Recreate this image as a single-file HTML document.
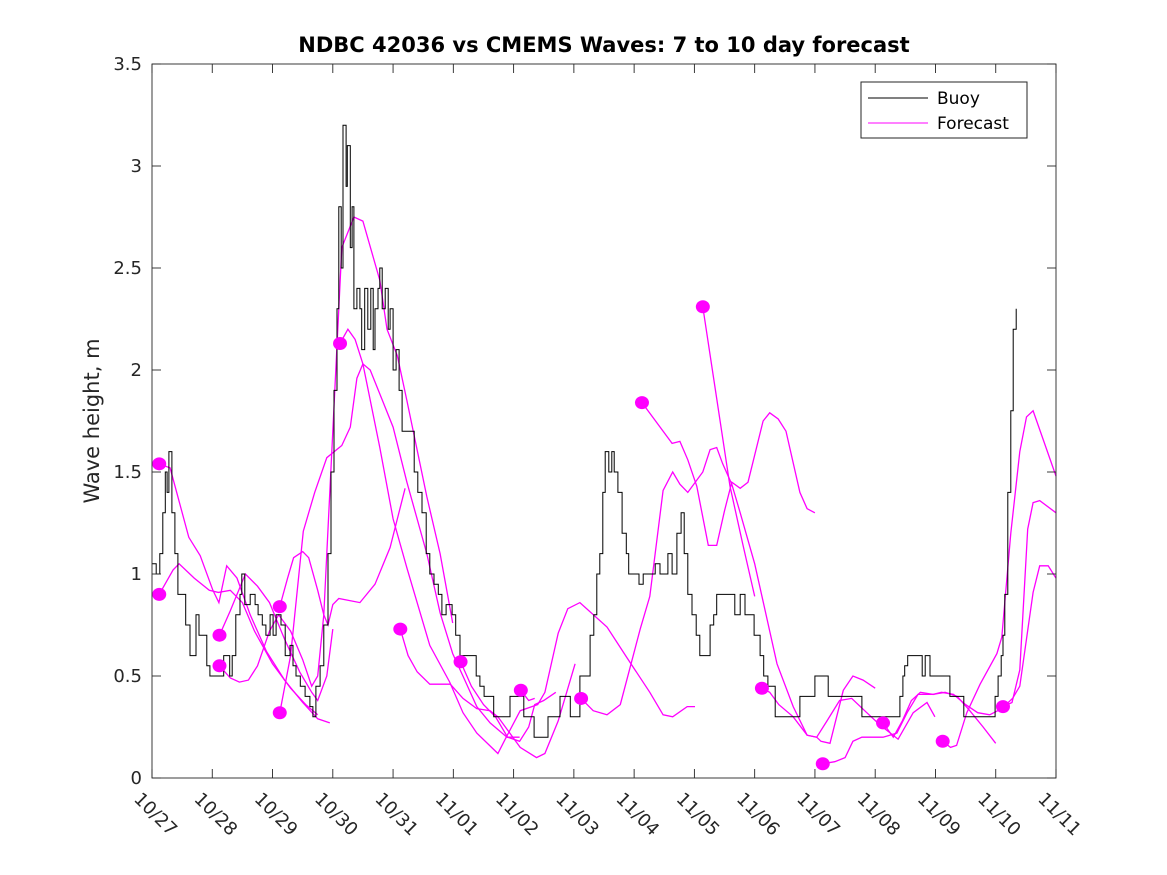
<!DOCTYPE html>
<html><head><meta charset="utf-8"><style>
html,body{margin:0;padding:0;background:#fff;}
svg{display:block;font-family:"DejaVu Sans","Liberation Sans",sans-serif;}
</style></head><body>
<svg id="chart" width="1167" height="875" viewBox="0 0 1167 875" xmlns="http://www.w3.org/2000/svg">
<rect x="0" y="0" width="1167" height="875" fill="#fff"/>
<text x="604" y="52" text-anchor="middle" font-size="21" font-weight="bold" fill="#000">NDBC 42036 vs CMEMS Waves: 7 to 10 day forecast</text>
<text transform="translate(99,421) rotate(-90)" text-anchor="middle" font-size="21" fill="#262626">Wave height, m</text>
<g id="plot"></g>
<g id="axes"></g>
<g>
<rect x="861" y="82" width="166" height="56" fill="#fff" stroke="#262626" stroke-width="1"/>
<line x1="868" y1="98" x2="928" y2="98" stroke="#000" stroke-width="1"/>
<text x="937" y="104" font-size="17" fill="#000">Buoy</text>
<line x1="868" y1="123" x2="928" y2="123" stroke="#ff00ff" stroke-width="1"/>
<text x="937" y="129" font-size="17" fill="#000">Forecast</text>
</g>
</svg>
<script>
const xTickLabels = ["10/27","10/28","10/29","10/30","10/31","11/01","11/02","11/03","11/04","11/05","11/06","11/07","11/08","11/09","11/10","11/11"];
const yTicks = [0,0.5,1,1.5,2,2.5,3,3.5];
const yTickLabels = ["0","0.5","1","1.5","2","2.5","3","3.5"];
const buoyDays = [0,.07,.13,.18,.22,.25,.28,.33,.38,.43,.51,.56,.63,.68,.73,.78,.88,.91,.96,1.13,1.19,1.29,1.33,1.39,1.46,1.49,1.54,1.63,1.71,1.76,1.83,1.89,1.96,2.01,2.06,2.14,2.21,2.29,2.34,2.39,2.46,2.54,2.62,2.67,2.72,2.79,2.85,2.92,2.97,3.02,3.07,3.10,3.14,3.17,3.20,3.22,3.24,3.29,3.32,3.35,3.40,3.45,3.48,3.53,3.58,3.63,3.67,3.70,3.75,3.78,3.82,3.87,3.92,3.95,4.00,4.05,4.10,4.15,4.28,4.35,4.41,4.48,4.55,4.61,4.68,4.75,4.81,4.88,4.98,5.04,5.11,5.28,5.38,5.44,5.51,5.61,5.67,5.86,5.94,6.11,6.17,6.27,6.34,6.52,6.57,6.70,6.77,6.85,6.94,7.04,7.10,7.18,7.27,7.33,7.38,7.43,7.48,7.52,7.58,7.63,7.67,7.73,7.80,7.87,7.91,8.03,8.08,8.15,8.30,8.35,8.43,8.56,8.63,8.71,8.78,8.83,8.89,8.96,9.03,9.09,9.18,9.26,9.32,9.37,9.59,9.67,9.76,9.84,9.92,9.99,10.09,10.15,10.22,10.34,10.70,10.75,10.95,11.00,11.17,11.22,11.75,11.78,12.33,12.41,12.46,12.49,12.54,12.74,12.78,12.83,12.91,13.19,13.24,13.44,13.47,13.94,13.99,14.04,14.09,14.12,14.15,14.20,14.25,14.29,14.34];
const buoyHeights = [1.05,1.0,1.1,1.3,1.5,1.4,1.6,1.3,1.1,0.9,0.9,0.75,0.6,0.6,0.8,0.7,0.7,0.55,0.5,0.5,0.6,0.5,0.6,0.8,0.9,1.0,0.85,0.9,0.85,0.8,0.75,0.7,0.8,0.7,0.8,0.75,0.6,0.65,0.55,0.5,0.45,0.4,0.35,0.3,0.45,0.55,0.75,1.1,1.5,1.9,2.3,2.8,2.5,3.2,3.2,2.9,3.1,2.6,2.8,2.3,2.4,2.3,2.1,2.4,2.2,2.4,2.1,2.3,2.4,2.5,2.3,2.4,2.2,2.3,2.0,2.1,1.9,1.7,1.7,1.5,1.4,1.3,1.1,1.0,0.95,0.9,0.8,0.85,0.8,0.7,0.6,0.6,0.5,0.45,0.4,0.4,0.3,0.3,0.4,0.4,0.3,0.3,0.2,0.2,0.3,0.3,0.4,0.4,0.3,0.3,0.5,0.5,0.7,0.8,1.0,1.1,1.4,1.6,1.5,1.6,1.5,1.4,1.2,1.1,1.0,1.0,0.95,1.0,1.0,1.05,1.0,1.1,1.0,1.2,1.3,1.1,0.9,0.8,0.7,0.6,0.6,0.75,0.8,0.9,0.9,0.8,0.9,0.8,0.8,0.7,0.6,0.5,0.45,0.3,0.3,0.4,0.4,0.5,0.5,0.4,0.4,0.3,0.3,0.4,0.5,0.55,0.6,0.6,0.5,0.6,0.5,0.5,0.4,0.4,0.3,0.3,0.4,0.5,0.6,0.7,0.9,1.4,1.8,2.2,2.3];
const fc01 = [[0.12,1.54],[0.3,1.52],[0.61,1.18],[0.8,1.09],[1.01,0.92],[1.11,0.86],[1.24,1.04],[1.41,0.98],[1.63,0.80],[1.9,0.62],[2.2,0.48],[2.5,0.37],[2.75,0.29],[2.95,0.27]];
const fc02 = [[0.12,0.90],[0.35,1.02],[0.45,1.05],[0.7,0.98],[0.95,0.92],[1.1,0.91],[1.3,0.92],[1.5,0.86],[1.7,0.72],[2.0,0.56],[2.3,0.44],[2.55,0.36],[2.75,0.31]];
const fc03 = [[1.12,0.70],[1.3,0.82],[1.55,1.0],[1.75,0.94],[1.95,0.86],[2.2,0.68],[2.45,0.52],[2.65,0.42],[2.75,0.38],[2.9,0.5],[3.0,0.73]];
const fc04 = [[1.12,0.55],[1.3,0.49],[1.45,0.47],[1.6,0.48],[1.75,0.55],[1.95,0.72],[2.1,0.8],[2.3,0.72],[2.5,0.58],[2.65,0.45],[2.75,0.5],[2.85,0.8],[2.95,1.4],[3.05,2.0],[3.15,2.6],[3.35,2.75],[3.5,2.73],[3.78,2.44],[3.9,2.2],[4.07,2.07],[4.23,1.85],[4.56,1.38],[4.78,1.1],[4.99,0.76]];
const fc05 = [[2.12,0.84],[2.25,0.98],[2.35,1.08],[2.5,1.11],[2.6,1.08],[2.75,0.92],[2.85,0.8],[2.92,0.75],[3.0,0.85],[3.1,0.88],[3.45,0.86],[3.7,0.95],[3.95,1.13],[4.2,1.42]];
const fc06 = [[2.12,0.32],[2.3,0.6],[2.51,1.21],[2.7,1.4],[2.9,1.57],[3.15,1.63],[3.29,1.72],[3.4,1.96],[3.5,2.03],[3.62,2.0],[4.0,1.72],[4.23,1.45],[4.56,1.1],[4.78,0.81],[4.99,0.61],[5.19,0.48],[5.39,0.35],[5.61,0.27],[5.89,0.2],[6.1,0.2]];
const fc07 = [[3.12,2.13],[3.25,2.2],[3.37,2.15],[3.5,2.03],[3.78,1.62],[4.0,1.27],[4.23,1.03],[4.61,0.65],[4.94,0.47],[5.16,0.32],[5.39,0.22],[5.74,0.12],[5.86,0.19],[6.11,0.33],[6.4,0.36],[6.52,0.42],[6.74,0.71],[6.9,0.83],[7.1,0.86],[7.55,0.74],[7.88,0.59],[8.26,0.42],[8.48,0.31],[8.64,0.30],[8.88,0.35],[9.01,0.35]];
const fc08 = [[4.12,0.73],[4.25,0.6],[4.4,0.52],[4.61,0.46],[4.95,0.46],[5.16,0.39],[5.39,0.34],[5.61,0.33],[5.74,0.3],[6.11,0.15],[6.38,0.1],[6.52,0.12],[6.74,0.28],[7.02,0.56]];
const fc09 = [[5.12,0.57],[5.3,0.45],[5.5,0.36],[5.7,0.3],[5.9,0.2],[6.1,0.18],[6.25,0.25],[6.35,0.36],[6.5,0.38],[6.7,0.42]];
const fc10 = [[6.12,0.43],[6.25,0.38],[6.35,0.39]];
const fc11 = [[7.12,0.39],[7.32,0.33],[7.55,0.31],[7.77,0.36],[8.1,0.73],[8.26,0.89],[8.48,1.41],[8.64,1.5],[8.76,1.44],[8.89,1.4],[9.14,1.5],[9.26,1.61],[9.37,1.62],[9.47,1.54],[9.62,1.44],[9.76,1.3],[10.0,1.05],[10.37,0.56],[10.64,0.35],[10.87,0.21],[11.03,0.2],[11.1,0.18],[11.25,0.17],[11.47,0.43],[11.63,0.5],[11.8,0.48],[12.0,0.44]];
const fc12 = [[8.13,1.84],[8.63,1.64],[8.76,1.65],[8.89,1.56],[9.04,1.43],[9.23,1.14],[9.37,1.14],[9.5,1.31],[9.62,1.45],[9.76,1.42],[9.89,1.45],[10.14,1.75],[10.25,1.79],[10.39,1.76],[10.52,1.7],[10.75,1.4],[10.87,1.32],[11.0,1.3]];
const fc13 = [[9.14,2.31],[9.59,1.43],[9.8,1.15],[10.0,0.89]];
const fc14 = [[10.12,0.44],[10.25,0.42],[10.4,0.36],[10.64,0.3],[10.87,0.21],[11.03,0.2],[11.2,0.28],[11.41,0.38],[11.61,0.39],[11.86,0.32],[12.08,0.26],[12.38,0.19],[12.63,0.32],[12.86,0.37],[12.99,0.3]];
const fc15 = [[11.13,0.07],[11.33,0.08],[11.5,0.1],[11.63,0.18],[11.78,0.2],[12.13,0.2],[12.36,0.22],[12.53,0.32],[12.71,0.41],[12.96,0.41],[13.16,0.42],[13.36,0.4],[13.57,0.33],[13.79,0.25],[14.0,0.17]];
const fc16 = [[12.13,0.27],[12.3,0.2],[12.45,0.28],[12.6,0.38],[12.75,0.42],[12.96,0.41],[13.1,0.42],[13.3,0.41],[13.5,0.36],[13.7,0.32],[13.9,0.31],[14.1,0.34],[14.28,0.39],[14.4,0.45],[14.62,0.91],[14.73,1.04],[14.87,1.04],[15.0,0.98]];
const fc17 = [[13.12,0.18],[13.25,0.15],[13.35,0.16],[13.52,0.32],[13.74,0.46],[14.02,0.61],[14.1,0.69],[14.25,1.2],[14.4,1.6],[14.51,1.77],[14.62,1.8],[15.0,1.48]];
const fc18 = [[14.12,0.35],[14.27,0.37],[14.4,0.53],[14.53,1.22],[14.62,1.35],[14.73,1.36],[15.0,1.3]];
const forecastRuns = [fc01,fc02,fc03,fc04,fc05,fc06,fc07,fc08,fc09,fc10,fc11,fc12,fc13,fc14,fc15,fc16,fc17,fc18];
const runHasMarker = [true,true,true,true,true,true,true,true,true,true,true,true,true,true,true,true,true,true];

const X0=152, X1=1056, Y0=778, Y1=64, DMAX=15, HMAX=3.5;
const NS="http://www.w3.org/2000/svg";
function xs(d){return X0+(X1-X0)*d/DMAX;}
function ys(h){return Y0-(Y0-Y1)*h/HMAX;}
function mk(tag,attrs){const e=document.createElementNS(NS,tag);for(const k in attrs)e.setAttribute(k,attrs[k]);return e;}
const plot=document.getElementById('plot'), axes=document.getElementById('axes');
axes.appendChild(mk('rect',{x:X0,y:Y1,width:X1-X0,height:Y0-Y1,fill:'none',stroke:'#262626','stroke-width':0.9}));
xTickLabels.forEach((lab,i)=>{
  const x=xs(i);
  const t1=mk('line',{x1:x,y1:Y0,x2:x,y2:Y0-9,stroke:'#262626','stroke-width':0.9});
  
  
  axes.appendChild(t1);
  axes.appendChild(mk('line',{x1:x,y1:Y1,x2:x,y2:Y1+9,stroke:'#262626','stroke-width':0.9}));
  const tx=mk('text',{x:x-19,y:800,'font-size':18,fill:'#262626',transform:`rotate(45 ${x-19} 800)`});
  
  
  tx.textContent=lab; axes.appendChild(tx);
});
yTicks.forEach((v,i)=>{
  const y=ys(v);
  const t1=mk('line',{x1:X0,y1:y,x2:X0+9,y2:y,stroke:'#262626','stroke-width':0.9});
  
  
  axes.appendChild(t1);
  axes.appendChild(mk('line',{x1:X1,y1:y,x2:X1-9,y2:y,stroke:'#262626','stroke-width':0.9}));
  const tx=mk('text',{x:X0-10,y:y+6,'font-size':18,fill:'#262626','text-anchor':'end'});
  
  
  tx.textContent=yTickLabels[i]; axes.appendChild(tx);
});
forecastRuns.forEach((run,i)=>{
  const pts=run.map(p=>xs(p[0]).toFixed(1)+','+ys(p[1]).toFixed(1)).join(' ');
  const pl=mk('polyline',{points:pts,fill:'none',stroke:'#ff00ff','stroke-width':1.3});
  
  
  plot.appendChild(pl);
});
let d='';
buoyDays.forEach((t,i)=>{
  const x=xs(t).toFixed(1), y=ys(buoyHeights[i]).toFixed(1);
  if(i===0) d+=`M${x},${y}`; else d+=`H${x}V${y}`;
});
const bp=mk('path',{d:d,fill:'none',stroke:'#000','stroke-width':1});


plot.appendChild(bp);
forecastRuns.forEach((run,i)=>{
  if(!runHasMarker[i]) return;
  const c=mk('ellipse',{cx:xs(run[0][0]),cy:ys(run[0][1]),rx:7,ry:6.5,fill:'#ff00ff'});
  
  
  plot.appendChild(c);
});
</script>
</body></html>
